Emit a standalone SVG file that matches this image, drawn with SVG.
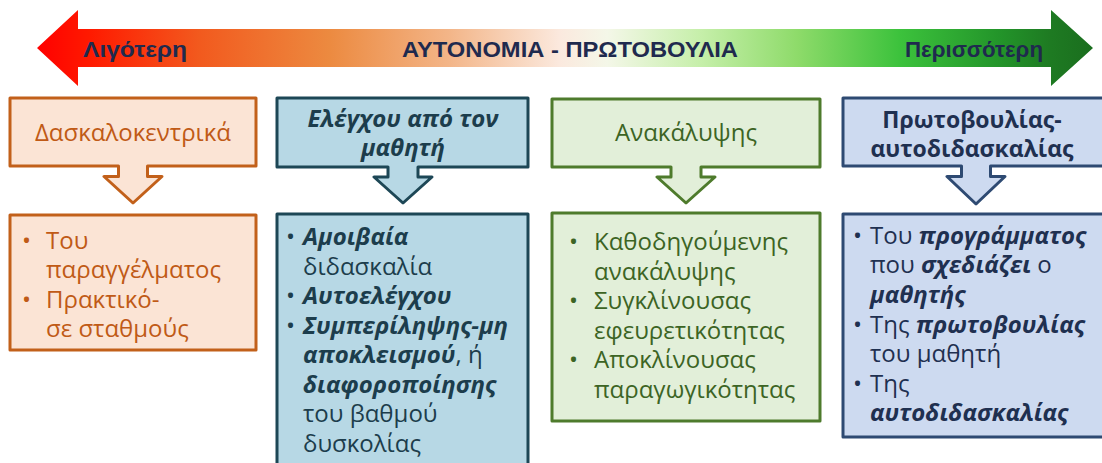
<svg xmlns="http://www.w3.org/2000/svg" width="1102" height="463" viewBox="0 0 1102 463">
<defs>
<linearGradient id="scale" gradientUnits="userSpaceOnUse" x1="37" y1="0" x2="1093" y2="0">
<stop offset="0" stop-color="#FF0000"/>
<stop offset="0.05" stop-color="#FF1A00"/>
<stop offset="0.154" stop-color="#F25A1E"/>
<stop offset="0.277" stop-color="#EC8A40"/>
<stop offset="0.39" stop-color="#F3B588"/>
<stop offset="0.495" stop-color="#FBE9DE"/>
<stop offset="0.54" stop-color="#F4F7E8"/>
<stop offset="0.628" stop-color="#C6EFAA"/>
<stop offset="0.72" stop-color="#8EDB6A"/>
<stop offset="0.817" stop-color="#3CC23C"/>
<stop offset="0.91" stop-color="#23952A"/>
<stop offset="0.96" stop-color="#1E7A22"/>
<stop offset="1" stop-color="#1A6E1E"/>
</linearGradient>
</defs>
<style>
text{font-family:"Open Sans","Noto Sans","Liberation Sans",sans-serif;}
.scale{font-family:"Liberation Sans",Arial,sans-serif;font-weight:bold;font-size:22px;fill:#1F2A4E;}
.hd{font-size:24px;text-anchor:middle;}
.bd{font-size:24px;}
.bi{font-weight:bold;font-style:italic;}
.b{font-weight:bold;}
.sh{stroke-width:3;stroke-linejoin:round;}
.o .sh{fill:#FBE4D5;stroke:#C2601A;}
.o text{fill:#C05A16;}
.t .sh{fill:#B7D8E5;stroke:#1D4756;}
.t text{fill:#1C3D4C;}
.g .sh{fill:#E2EFD9;stroke:#4E7B2C;}
.g text{fill:#3C6424;}
.n .sh{fill:#CDDAF0;stroke:#2E4A72;}
.n text{fill:#1F3050;}
</style>

<g id="scale-arrow">
<polygon points="37,48 78,10 78,29 1051,29 1051,10 1093,48 1051,86 1051,67 78,67 78,86" fill="url(#scale)"/>
<text class="scale" x="83" y="57" textLength="104" lengthAdjust="spacingAndGlyphs">Λιγότερη</text>
<text class="scale" x="402" y="57" textLength="336" lengthAdjust="spacingAndGlyphs">ΑΥΤΟΝΟΜΙΑ - ΠΡΩΤΟΒΟΥΛΙΑ</text>
<text class="scale" x="905" y="57" textLength="138" lengthAdjust="spacingAndGlyphs">Περισσότερη</text>
</g>

<g id="teacher-centred" class="o">
<path class="sh" d="M10,98 H256 V166 H147.5 V176.5 H162 L133,203 L104,176.5 H118.5 V166 H10 Z"/>
<text class="hd" x="133" y="141">Δασκαλοκεντρικά</text>
</g>
<g id="teacher-centred-list" class="o">
<rect class="sh" x="10" y="215" width="246" height="135"/>
<text class="bd" x="22" y="249">•</text>
<text class="bd" x="46" y="249">Του</text>
<text class="bd" x="46" y="278">παραγγέλματος</text>
<text class="bd" x="22" y="308">•</text>
<text class="bd" x="46" y="308">Πρακτικό-</text>
<text class="bd" x="46" y="337">σε σταθμούς</text>
</g>

<g id="student-control" class="t">
<path class="sh" d="M277,98 H528 V167 H418 V177 H432 L403,203 L374,177 H388 V167 H277 Z"/>
<text class="hd bi" x="403" y="127">Ελέγχου από τον</text>
<text class="hd bi" x="403" y="156">μαθητή</text>
</g>
<g id="student-control-list" class="t">
<rect class="sh" x="277" y="214" width="251" height="260"/>
<text class="bd" x="286" y="245">•</text>
<text class="bd bi" x="303" y="245">Αμοιβαία</text>
<text class="bd" x="303" y="275">διδασκαλία</text>
<text class="bd" x="286" y="304">•</text>
<text class="bd bi" x="303" y="304">Αυτοελέγχου</text>
<text class="bd" x="286" y="334">•</text>
<text class="bd bi" x="303" y="334">Συμπερίληψης-μη</text>
<text class="bd" x="303" y="363"><tspan class="bi">αποκλεισμού</tspan>, ή</text>
<text class="bd bi" x="303" y="393">διαφοροποίησης</text>
<text class="bd" x="303" y="422">του βαθμού</text>
<text class="bd" x="303" y="452">δυσκολίας</text>
</g>

<g id="discovery" class="g">
<path class="sh" d="M552,99 H820 V167 H701 V177 H715 L686,203 L657,177 H671 V167 H552 Z"/>
<text class="hd" x="686" y="141">Ανακάλυψης</text>
</g>
<g id="discovery-list" class="g">
<rect class="sh" x="552" y="213" width="268" height="208"/>
<text class="bd" x="569" y="250">•</text>
<text class="bd" x="594" y="250">Καθοδηγούμενης</text>
<text class="bd" x="594" y="280">ανακάλυψης</text>
<text class="bd" x="569" y="309">•</text>
<text class="bd" x="594" y="309">Συγκλίνουσας</text>
<text class="bd" x="594" y="339">εφευρετικότητας</text>
<text class="bd" x="569" y="368">•</text>
<text class="bd" x="594" y="368">Αποκλίνουσας</text>
<text class="bd" x="594" y="398">παραγωγικότητας</text>
</g>

<g id="self-teaching" class="n">
<path class="sh" d="M843,98 H1112 V166 H990.5 V176.5 H1005 L976,204 L947,176.5 H961.5 V166 H843 Z"/>
<text class="hd b" x="972" y="128" style="font-size:23px">Πρωτοβουλίας-</text>
<text class="hd b" x="972" y="157" style="font-size:23px">αυτοδιδασκαλίας</text>
</g>
<g id="self-teaching-list" class="n">
<rect class="sh" x="843" y="214" width="269" height="223"/>
<text class="bd" x="853" y="244">•</text>
<text class="bd" x="870" y="244">Του <tspan class="bi">προγράμματος</tspan></text>
<text class="bd" x="870" y="273">που <tspan class="bi">σχεδιάζει</tspan> ο</text>
<text class="bd bi" x="870" y="303">μαθητής</text>
<text class="bd" x="853" y="333">•</text>
<text class="bd" x="870" y="333">Της <tspan class="bi">πρωτοβουλίας</tspan></text>
<text class="bd" x="870" y="362">του μαθητή</text>
<text class="bd" x="853" y="392">•</text>
<text class="bd" x="870" y="392">Της</text>
<text class="bd bi" x="870" y="421">αυτοδιδασκαλίας</text>
</g>
</svg>
